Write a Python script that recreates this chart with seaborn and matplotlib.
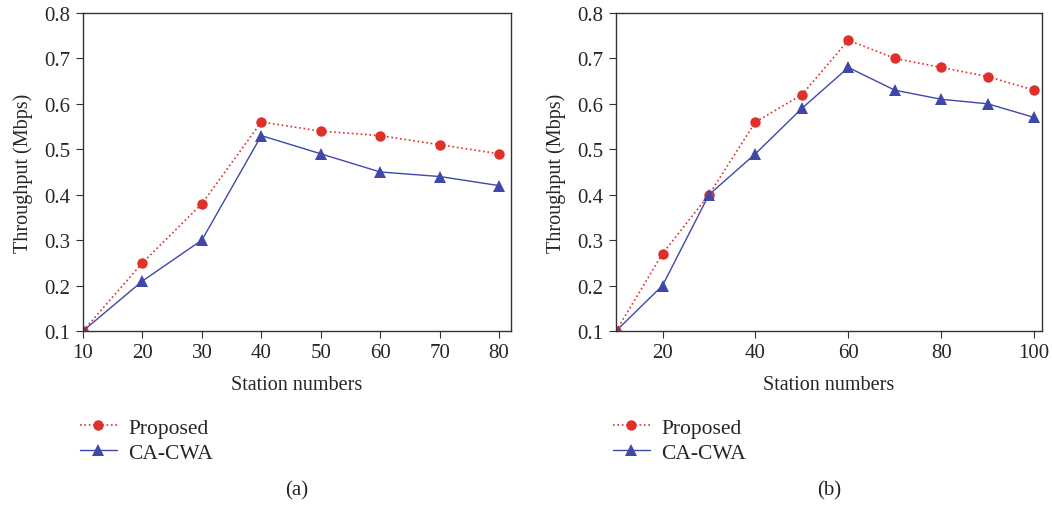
import matplotlib
matplotlib.use("Agg")
from matplotlib import pyplot as plt
import seaborn as sns
import pandas as pd

stations_a = [10, 20, 30, 40, 50, 60, 70, 80]
proposed_a = [0.10, 0.25, 0.38, 0.56, 0.54, 0.53, 0.51, 0.49]
cacwa_a = [0.10, 0.21, 0.30, 0.53, 0.49, 0.45, 0.44, 0.42]

stations_b = [10, 20, 30, 40, 50, 60, 70, 80, 90, 100]
proposed_b = [0.10, 0.27, 0.40, 0.56, 0.62, 0.74, 0.70, 0.68, 0.66, 0.63]
cacwa_b = [0.10, 0.20, 0.40, 0.49, 0.59, 0.68, 0.63, 0.61, 0.60, 0.57]

red = '#e0302a'
blue = '#3f48a8'

sns.set_style('ticks')
plt.rcParams['font.family'] = ['Liberation Serif', 'DejaVu Serif']
plt.rcParams['axes.linewidth'] = 1.0


def plot_panel(ax, x, prop, ca, xlim, xticks, caption):
    df = pd.DataFrame({'x': x, 'Proposed': prop, 'CA-CWA': ca})
    sns.lineplot(data=df, x='x', y='Proposed', ax=ax, color=red, linestyle=':', marker='o',
                 markersize=7.5, markeredgewidth=0, linewidth=1.2, label='Proposed')
    sns.lineplot(data=df, x='x', y='CA-CWA', ax=ax, color=blue, linestyle='-', marker='^',
                 markersize=8.5, markeredgewidth=0, linewidth=1.0, label='CA-CWA')
    ax.set_xlim(*xlim)
    ax.set_ylim(0.1, 0.8)
    ax.set_xticks(xticks)
    ax.set_yticks([0.1, 0.2, 0.3, 0.4, 0.5, 0.6, 0.7, 0.8])
    ax.set_yticklabels(['0.1', '0.2', '0.3', '0.4', '0.5', '0.6', '0.7', '0.8'])
    ax.tick_params(labelsize=15, direction='out', length=5, pad=4, color='#333333')
    for s in ax.spines.values():
        s.set_color('#333333')
    ax.set_xlabel('Station numbers', fontsize=14.5, labelpad=9)
    ax.set_ylabel('Throughput (Mbps)', fontsize=14.5, labelpad=8)
    ax.legend(loc='upper left', bbox_to_anchor=(-0.027, -0.245), frameon=False, fontsize=15.5,
              handlelength=1.7, handletextpad=0.55, labelspacing=0.25, borderaxespad=0)
    ax.text(0.5, -0.50, caption, transform=ax.transAxes, ha='center', va='center', fontsize=15)


fig = plt.figure(figsize=(10.52, 5.06), dpi=100)
ax1 = fig.add_axes([0.0789, 0.3439, 0.4068, 0.6285])
ax2 = fig.add_axes([0.5856, 0.3439, 0.405, 0.6285])

plot_panel(ax1, stations_a, proposed_a, cacwa_a, (10, 82), [10, 20, 30, 40, 50, 60, 70, 80], '(a)')
plot_panel(ax2, stations_b, proposed_b, cacwa_b, (10, 101.7), [20, 40, 60, 80, 100], '(b)')

fig.savefig('out.png', dpi=100)
